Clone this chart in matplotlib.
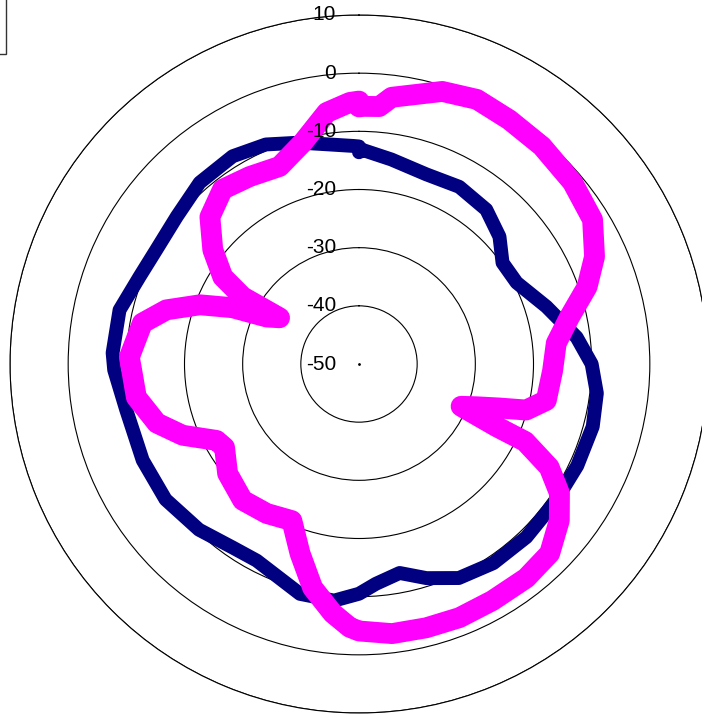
import numpy as np
import matplotlib
matplotlib.use('Agg')
import matplotlib.pyplot as plt
from matplotlib.patches import Rectangle

plt.rcParams['font.family'] = ['Liberation Sans', 'DejaVu Sans']

# escala radial
r_ticks = [-50, -40, -30, -20, -10, 0, 10]
r_labels = ['-50', '-40', '-30', '-20', '-10', '0', '10']

# série azul (ângulo em graus, sentido horário a partir do topo)
ang_azul = [0, 1, 9, 19.5, 29.5, 39.5, 47.8, 54.8, 62.7, 73, 83, 90, 97, 105, 115,
            125, 136, 146, 155, 162.5, 169, 175.6, 180, 186, 194.4, 207.5, 214.5,
            224, 235, 246, 259, 268.6, 272.6, 282.7, 291.7, 299.4, 309, 318.7,
            328.7, 337, 345, 353, 358.5, 360]
val_azul = [-13.6, -13.2, -14.4, -15.4, -15.0, -15.6, -17.4, -19.8, -19.5, -16.3, -12.3,
            -10.0, -8.8, -8.4, -8.6, -8.8, -8.6, -8.7, -9.4, -11.4, -13.4, -12.1,
            -10.5, -9.1, -9.2, -11.9, -11.7, -10.4, -9.4, -9.3, -9.2, -7.9, -7.6,
            -7.8, -9.4, -10.0, -9.7, -8.5, -8.2, -9.0, -10.6, -12.0, -12.5, -12.6]

# série magenta
ang_mag = [0, 1, 4.5, 7, 17, 24, 31.6, 40, 49.6, 58.3, 65.5, 71.3, 77.4, 84, 92, 101,
           105.4, 107.4, 110, 112.5, 114.5, 115, 118.5, 122.8, 128, 134.8, 142,
           150.6, 158.4, 165.7, 173, 180, 182, 186, 191.7, 197.3, 203.2, 211.7,
           220.5, 230.2, 238.2, 241.8, 248, 253.7, 261.5, 268.5, 271.7, 280.7,
           285.7, 290.4, 294, 297, 300.2, 300, 302.6, 308, 314.6, 322, 329.8,
           338.1, 345.8, 352.7, 358, 360]
val_mag = [-5.8, -5.7, -5.6, -3.8, -1.0, -0.2, -0.7, -1.1, -1.8, -2.8, -5.5, -8.6, -12.9,
           -15.9, -16.7, -17.2, -20.2, -24.7, -28.5, -31.0, -24.0, -18.5, -12.8,
           -9.0, -6.3, -3.8, -3.3, -3.3, -3.1, -3.2, -3.3, -4.1, -4.7, -6.9, -10.7,
           -15.9, -20.7, -19.8, -19.2, -20.6, -22.8, -22.2, -17.3, -13.8, -11.3,
           -10.9, -10.5, -12.1, -15.6, -20.8, -26.2, -32.2, -34.2, -26.9, -22.2,
           -18.1, -14.0, -11.9, -12.7, -13.4, -10.7, -6.4, -5.0, -4.8]

W, H = 702, 714
cx, cy, R = 359, 364, 349  # centro e raio externo em pixels

fig = plt.figure(figsize=(W / 100, H / 100), dpi=100)
ax = fig.add_axes([(cx - R) / W, (H - cy - R) / H, 2 * R / W, 2 * R / H],
                  projection='polar')
ax.set_theta_zero_location('N')
ax.set_theta_direction(-1)
ax.set_ylim(-50, 10)

ax.plot(np.radians(ang_azul), val_azul, color='#000080', lw=10,
        solid_joinstyle='round', solid_capstyle='round')
ax.plot(np.radians(ang_mag), val_mag, color='#FF00FF', lw=15,
        solid_joinstyle='round', solid_capstyle='round')
ax.plot([0], [-50], 'k.', ms=2)

# grade
ax.set_rticks(r_ticks)
ax.set_yticklabels([])
ax.set_xticks([])
ax.yaxis.grid(True, color='black', lw=0.8, ls='-')
ax.xaxis.grid(False)
ax.spines['polar'].set_linewidth(0.8)
ax.spines['polar'].set_color('black')

for r, lab in zip(r_ticks, r_labels):
    ax.annotate(lab, xy=(0, r), xytext=(-16.5, 0), textcoords='offset points',
                ha='right', va='center', fontsize=15, annotation_clip=False)

# borda da legenda (parcialmente visível)
fig.patches.append(Rectangle((-0.1, 1 - 54 / H), 0.1 + 6 / W, 0.2,
                             transform=fig.transFigure, fill=False,
                             edgecolor='#333333', lw=1))

fig.savefig('out.png', dpi=100)
